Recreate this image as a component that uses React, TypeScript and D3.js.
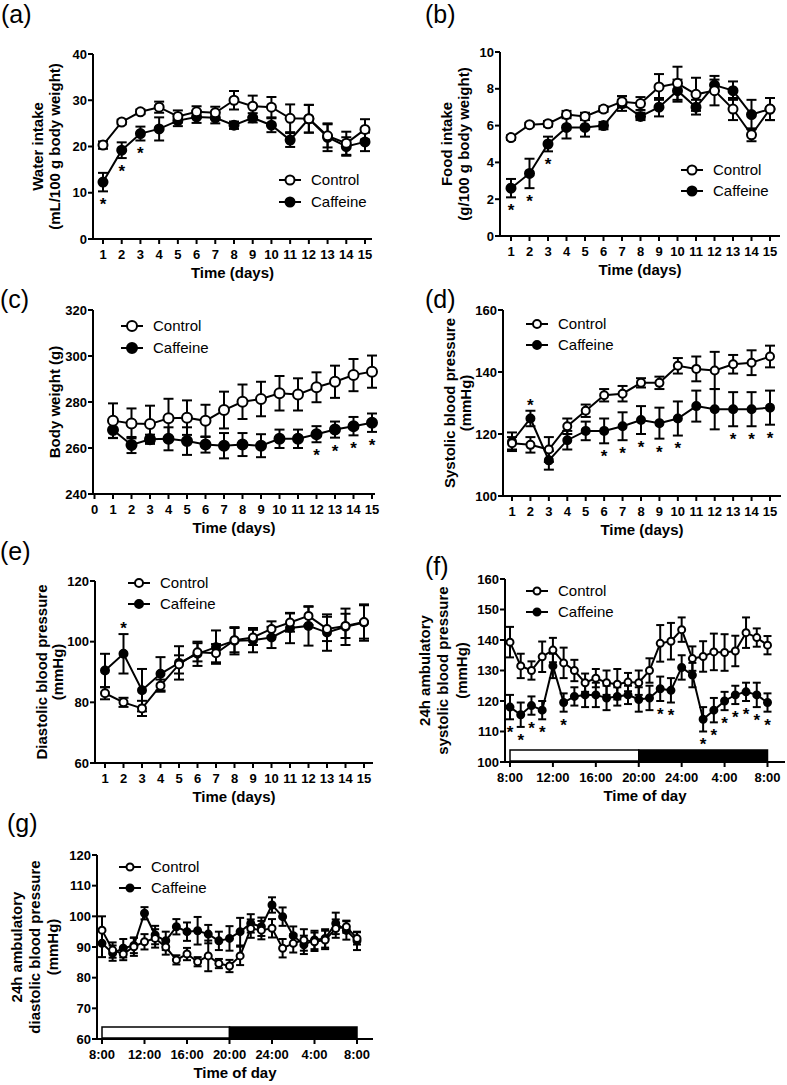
import React from 'react';
import * as d3 from 'd3';

// ---------- DATA ----------
const days = [1, 2, 3, 4, 5, 6, 7, 8, 9, 10, 11, 12, 13, 14, 15];
const weightDayTicks = [0, 1, 2, 3, 4, 5, 6, 7, 8, 9, 10, 11, 12, 13, 14, 15];
const hours = [0, 1, 2, 3, 4, 5, 6, 7, 8, 9, 10, 11, 12, 13, 14, 15, 16, 17, 18, 19, 20, 21, 22, 23, 24];
const timeTickHours = [0, 4, 8, 12, 16, 20, 24];
const timeTickLabels = ['8:00', '12:00', '16:00', '20:00', '24:00', '4:00', '8:00'];
const lightPeriod = [0, 12];
const darkPeriod = [12, 24];
const legendLabels = ['Control', 'Caffeine'];

// (a) water intake
const waterYTicks = [0, 10, 20, 30, 40];
const waterControl = [20.3, 25.3, 27.5, 28.5, 26.5, 27.5, 27.3, 30, 28.7, 28.5, 26.1, 26, 22.3, 20.7, 23.7];
const waterControlErr = [0.8, 0.5, 0.5, 1.2, 1.3, 1.2, 1.3, 2, 2.3, 2.2, 3, 3, 2.5, 2.5, 2.2];
const waterCaffeine = [12.3, 19.2, 22.8, 23.8, 25.6, 26.4, 26.2, 24.6, 26.2, 24.6, 21.4, 26, 22, 20, 21];
const waterCaffeineErr = [2, 1.7, 1.5, 2.5, 1.2, 1.3, 1.2, 0.8, 1, 1.5, 1.5, 3, 3, 2, 2];
const waterStars = [1, 2, 3];

// (b) food intake
const foodYTicks = [0, 2, 4, 6, 8, 10];
const foodControl = [5.35, 6.05, 6.1, 6.6, 6.5, 6.9, 7.3, 7.2, 8.1, 8.3, 7.7, 7.9, 6.9, 5.5, 6.9];
const foodControlErr = [0.12, 0.1, 0.15, 0.2, 0.2, 0.15, 0.3, 0.35, 0.7, 0.9, 0.9, 0.8, 0.6, 0.35, 0.6];
const foodCaffeine = [2.6, 3.4, 5.0, 5.9, 5.9, 6.0, 7.2, 6.5, 7.0, 7.9, 7.0, 8.2, 7.9, 6.6, 6.9];
const foodCaffeineErr = [0.5, 0.8, 0.4, 0.6, 0.5, 0.2, 0.4, 0.2, 0.5, 0.6, 0.4, 0.3, 0.5, 0.8, 0.6];
const foodStars = [1, 2, 3];

// (c) body weight
const weightYTicks = [240, 260, 280, 300, 320];
const weightControl = [271.9, 270.7, 270.4, 272.9, 273.2, 271.8, 276.5, 280.1, 281.3, 283.8, 283.3, 286.4, 288.8, 291.7, 293.2];
const weightControlErr = [7.5, 6.5, 8, 8.5, 7.5, 7, 8, 7.5, 7.5, 7.5, 7, 6.5, 7, 7, 7];
const weightCaffeine = [267.8, 261.3, 263.8, 264, 263, 261.5, 261, 261.5, 261, 264, 264, 266, 268, 269.5, 271];
const weightCaffeineErr = [3.5, 3.5, 2, 5, 6, 3.5, 5.5, 5, 5, 4, 4, 3.5, 3.5, 4, 4];
const weightStars = [12, 13, 14, 15];

// (d) systolic blood pressure
const sbpYTicks = [100, 120, 140, 160];
const sbpControl = [117, 116.5, 115, 122.5, 127.5, 132.5, 133, 136.5, 136.5, 142, 141, 140.5, 142.5, 143, 145];
const sbpControlErr = [2, 2.5, 4, 2.5, 2, 2, 2.5, 1.5, 2, 2.5, 4, 6, 3, 4, 3.5];
const sbpCaffeine = [117.5, 125, 111.5, 118, 121, 121, 122.5, 124.5, 123.5, 125, 129, 128, 128, 128, 128.5];
const sbpCaffeineErr = [3, 2.5, 3, 3, 3, 4, 4.5, 4.5, 5, 5.5, 5, 6.5, 5.5, 5.5, 5.5];
const sbpStarsBelow = [6, 7, 8, 9, 10, 13, 14, 15];
const sbpStarsAbove = [2];

// (e) diastolic blood pressure
const dbpYTicks = [60, 80, 100, 120];
const dbpControl = [83, 80, 78, 85.5, 92.5, 96.5, 96.2, 100.5, 101.4, 104.2, 106.3, 108.5, 104.2, 105.2, 106.5];
const dbpControlErr = [2, 1.5, 2.5, 2, 3, 3, 3, 4, 2.5, 2.5, 3, 3, 4, 4, 5.5];
const dbpCaffeine = [90.5, 96, 84, 89.4, 93, 96, 98.2, 100.3, 100.5, 101.4, 104.5, 105.2, 103, 104.9, 106.3];
const dbpCaffeineErr = [5.5, 6.5, 7, 5.5, 5.5, 4, 5.5, 4.5, 4, 3.5, 5, 6.5, 6, 6, 6];
const dbpStarsAbove = [2];

// (f) 24h ambulatory systolic blood pressure
const ambSbpYTicks = [100, 110, 120, 130, 140, 150, 160];
const ambSbpControl = [139.3, 131.5, 130, 134.5, 136.7, 132.5, 130, 126, 127.5, 126, 125.5, 126.2, 126, 130, 138.9, 139.6, 143.4, 133.9, 134.6, 136.1, 135.9, 136.4, 142.4, 140.8, 138.3];
const ambSbpControlErr = [5, 4, 3, 5, 4, 5, 3.5, 3, 3, 4, 5, 3, 4, 4, 6, 6, 4, 4, 5, 6, 6, 5, 5, 3, 3];
const ambSbpCaffeine = [118, 115.5, 118.5, 117, 131.5, 119.5, 121.5, 122, 122, 121, 121.5, 122, 120.5, 121, 124, 123.5, 131, 128.5, 114, 117, 120, 122, 123, 122, 119.5];
const ambSbpCaffeineErr = [4, 4, 3, 3, 4, 3, 3, 4, 4, 4, 3, 3, 4, 4, 4, 4, 4, 4, 4, 4, 3, 3, 3, 4, 3];
const ambSbpStars = [0, 1, 2, 3, 5, 14, 15, 18, 19, 20, 21, 22, 23, 24];

// (g) 24h ambulatory diastolic blood pressure
const ambDbpYTicks = [60, 70, 80, 90, 100, 110, 120];
const ambDbpControl = [95.5, 89, 87.7, 90.1, 91.7, 92.8, 90, 85.8, 87.7, 85.2, 87.1, 84.6, 83.8, 87.1, 96, 95.5, 96.1, 89.6, 91.2, 92.3, 91.7, 92.3, 96, 96.6, 92.8];
const ambDbpControlErr = [4.5, 2.5, 2, 3, 2.5, 3, 2.5, 1.5, 2, 1.5, 5, 1.5, 2, 3, 3, 3, 3, 3, 3, 3.5, 3, 3, 3, 2, 2];
const ambDbpCaffeine = [91.2, 88, 89.6, 90.5, 101, 93.9, 92, 96.6, 95, 95.3, 94.2, 92, 92.8, 95, 97.7, 96.6, 103.7, 99.9, 93.7, 90.7, 92.3, 92.8, 97.7, 95.4, 92];
const ambDbpCaffeineErr = [4.5, 2.5, 3, 2.5, 2, 3, 3, 2.5, 3, 4.5, 3, 3, 4, 4.5, 3, 3, 2.5, 3, 3, 3, 3, 3, 3.5, 3, 3];

// ---------- RENDER ----------
const FONT = 'Arial, "Liberation Sans", Helvetica, sans-serif';

type PanelProps = {
  label: string; labelX: number; labelY: number;
  xVals: number[]; xDomain: [number, number]; xRange: [number, number];
  xTicks: number[]; xTickLabels: string[];
  yDomain: [number, number]; yRange: [number, number]; yTicks: number[];
  axisLeft: number; axisRight: number;
  control: number[]; controlErr: number[]; caffeine: number[]; caffeineErr: number[];
  starsBelow: number[]; starsAbove: number[];
  yTitle: string[]; yTitleXs: number[]; xTitle: string;
  legendX: number; legendY: number[];
  r: number; cap: number; bar?: boolean;
};

function Star({ x, cy }: { x: number; cy: number }) {
  const fs = 17;
  return <text x={x} y={cy + 0.58 * fs} textAnchor="middle" fontSize={fs} fontWeight="bold" fontFamily={FONT}>*</text>;
}

function Panel(p: PanelProps) {
  const x = d3.scaleLinear().domain(p.xDomain).range(p.xRange);
  const y = d3.scaleLinear().domain(p.yDomain).range(p.yRange);
  const y0 = y(p.yDomain[0]);
  const yTop = y(p.yDomain[1]);
  const midY = (y0 + yTop) / 2;
  const line = d3.line<number>().x((_, i) => x(p.xVals[i])).y((v) => y(v));
  const series = [
    { vals: p.caffeine, errs: p.caffeineErr, filled: true },
    { vals: p.control, errs: p.controlErr, filled: false },
  ];
  return (
    <g fontFamily={FONT}>
      <text x={p.labelX} y={p.labelY} fontSize={25}>{p.label}</text>
      {p.bar && (
        <g>
          <rect x={x(lightPeriod[0])} y={y0 - 12} width={x(lightPeriod[1]) - x(lightPeriod[0])} height={11} fill="#fff" stroke="#000" strokeWidth={1.5} />
          <rect x={x(darkPeriod[0])} y={y0 - 12} width={x(darkPeriod[1]) - x(darkPeriod[0])} height={11} fill="#000" stroke="#000" strokeWidth={1.5} />
        </g>
      )}
      <line x1={p.axisLeft} x2={p.axisLeft} y1={yTop} y2={y0 + 1} stroke="#000" strokeWidth={2} />
      <line x1={p.axisLeft} x2={p.axisRight} y1={y0} y2={y0} stroke="#000" strokeWidth={2} />
      {p.yTicks.map((t) => (
        <g key={'y' + t}>
          <line x1={p.axisLeft - 5} x2={p.axisLeft} y1={y(t)} y2={y(t)} stroke="#000" strokeWidth={2} />
          <text x={p.axisLeft - 6} y={y(t)} dy="0.36em" textAnchor="end" fontSize={13} fontWeight="bold">{t}</text>
        </g>
      ))}
      {p.xTicks.map((t, i) => (
        <g key={'x' + i}>
          <line x1={x(t)} x2={x(t)} y1={y0} y2={y0 + 5} stroke="#000" strokeWidth={2} />
          <text x={x(t)} y={y0 + 15.5} dy="0.36em" textAnchor="middle" fontSize={13} fontWeight="bold">{p.xTickLabels[i]}</text>
        </g>
      ))}
      <text x={(p.axisLeft + p.axisRight) / 2} y={y0 + 34} dy="0.36em" textAnchor="middle" fontSize={15} fontWeight="bold">{p.xTitle}</text>
      {p.yTitle.map((t, i) => (
        <text key={'yt' + i} transform={`translate(${p.yTitleXs[i]},${midY}) rotate(-90)`} dy="0.36em" textAnchor="middle" fontSize={15} fontWeight="bold">{t}</text>
      ))}
      {series.map((s, si) => (
        <g key={'s' + si}>
          <path d={line(s.vals) || ''} fill="none" stroke="#000" strokeWidth={2} />
          {s.vals.map((v, i) => {
            const cx = x(p.xVals[i]);
            const yHi = y(v + s.errs[i]);
            const yLo = y(v - s.errs[i]);
            return (
              <g key={'e' + i}>
                <line x1={cx} x2={cx} y1={yHi} y2={yLo} stroke="#000" strokeWidth={2} />
                <line x1={cx - p.cap} x2={cx + p.cap} y1={yHi} y2={yHi} stroke="#000" strokeWidth={2} />
                <line x1={cx - p.cap} x2={cx + p.cap} y1={yLo} y2={yLo} stroke="#000" strokeWidth={2} />
              </g>
            );
          })}
          {s.vals.map((v, i) => (
            <circle key={'c' + i} cx={x(p.xVals[i])} cy={y(v)} r={p.r} fill={s.filled ? '#000' : '#fff'} stroke="#000" strokeWidth={2} />
          ))}
        </g>
      ))}
      {p.starsBelow.map((d) => {
        const i = p.xVals.indexOf(d);
        return <Star key={'sb' + d} x={x(d)} cy={y(p.caffeine[i] - p.caffeineErr[i]) + 9} />;
      })}
      {p.starsAbove.map((d) => {
        const i = p.xVals.indexOf(d);
        return <Star key={'sa' + d} x={x(d)} cy={y(p.caffeine[i] + p.caffeineErr[i]) - 10} />;
      })}
      {legendLabels.map((lab, i) => (
        <g key={'lg' + i}>
          <line x1={p.legendX - 11} x2={p.legendX + 11} y1={p.legendY[i]} y2={p.legendY[i]} stroke="#000" strokeWidth={2} />
          <circle cx={p.legendX} cy={p.legendY[i]} r={p.r} fill={i === 1 ? '#000' : '#fff'} stroke="#000" strokeWidth={2} />
          <text x={p.legendX + 21} y={p.legendY[i]} dy="0.36em" fontSize={15}>{lab}</text>
        </g>
      ))}
    </g>
  );
}

export default function App() {
  const dayLabels = days.map(String);
  return (
    <svg width={787} height={1085} viewBox="0 0 787 1085" style={{ position: 'absolute', left: 0, top: 0, background: '#fff' }}>
      <rect x={0} y={0} width={787} height={1085} fill="#fff" />
      <Panel label="(a)" labelX={1} labelY={23}
        xVals={days} xDomain={[1, 15]} xRange={[103, 365]} xTicks={days} xTickLabels={dayLabels}
        yDomain={[0, 40]} yRange={[239, 54]} yTicks={waterYTicks}
        axisLeft={93} axisRight={372}
        control={waterControl} controlErr={waterControlErr} caffeine={waterCaffeine} caffeineErr={waterCaffeineErr}
        starsBelow={waterStars} starsAbove={[]}
        yTitle={['Water intake', '(mL/100 g body weight)']} yTitleXs={[38, 55]} xTitle="Time (days)"
        legendX={290} legendY={[180, 202]} r={4.5} cap={5} />
      <Panel label="(b)" labelX={425} labelY={23}
        xVals={days} xDomain={[1, 15]} xRange={[511, 770]} xTicks={days} xTickLabels={dayLabels}
        yDomain={[0, 10]} yRange={[236, 52]} yTicks={foodYTicks}
        axisLeft={500} axisRight={780}
        control={foodControl} controlErr={foodControlErr} caffeine={foodCaffeine} caffeineErr={foodCaffeineErr}
        starsBelow={foodStars} starsAbove={[]}
        yTitle={['Food intake', '(g/100 g body weight)']} yTitleXs={[447, 464]} xTitle="Time (days)"
        legendX={692} legendY={[170, 191]} r={4.5} cap={5} />
      <Panel label="(c)" labelX={0} labelY={308}
        xVals={days} xDomain={[0, 15]} xRange={[94.5, 372]} xTicks={weightDayTicks} xTickLabels={weightDayTicks.map(String)}
        yDomain={[240, 320]} yRange={[494, 310]} yTicks={weightYTicks}
        axisLeft={93} axisRight={375}
        control={weightControl} controlErr={weightControlErr} caffeine={weightCaffeine} caffeineErr={weightCaffeineErr}
        starsBelow={weightStars} starsAbove={[]}
        yTitle={['Body weight (g)']} yTitleXs={[55]} xTitle="Time (days)"
        legendX={132} legendY={[326, 348]} r={5} cap={5} />
      <Panel label="(d)" labelX={425} labelY={308}
        xVals={days} xDomain={[1, 15]} xRange={[512, 770]} xTicks={days} xTickLabels={dayLabels}
        yDomain={[100, 160]} yRange={[496, 310]} yTicks={sbpYTicks}
        axisLeft={503} axisRight={781}
        control={sbpControl} controlErr={sbpControlErr} caffeine={sbpCaffeine} caffeineErr={sbpCaffeineErr}
        starsBelow={sbpStarsBelow} starsAbove={sbpStarsAbove}
        yTitle={['Systolic blood pressure', '(mmHg)']} yTitleXs={[450, 466]} xTitle="Time (days)"
        legendX={537} legendY={[324, 345]} r={4} cap={5} />
      <Panel label="(e)" labelX={0} labelY={560}
        xVals={days} xDomain={[1, 15]} xRange={[105, 364]} xTicks={days} xTickLabels={dayLabels}
        yDomain={[60, 120]} yRange={[763, 581]} yTicks={dbpYTicks}
        axisLeft={95} axisRight={373}
        control={dbpControl} controlErr={dbpControlErr} caffeine={dbpCaffeine} caffeineErr={dbpCaffeineErr}
        starsBelow={[]} starsAbove={dbpStarsAbove}
        yTitle={['Diastolic blood pressure', '(mmHg)']} yTitleXs={[42, 58]} xTitle="Time (days)"
        legendX={139} legendY={[583, 604]} r={4} cap={5} />
      <Panel label="(f)" labelX={425} labelY={575}
        xVals={hours} xDomain={[0, 24]} xRange={[510, 767.5]} xTicks={timeTickHours} xTickLabels={timeTickLabels}
        yDomain={[100, 160]} yRange={[762, 579]} yTicks={ambSbpYTicks}
        axisLeft={505} axisRight={785}
        control={ambSbpControl} controlErr={ambSbpControlErr} caffeine={ambSbpCaffeine} caffeineErr={ambSbpCaffeineErr}
        starsBelow={ambSbpStars} starsAbove={[]}
        yTitle={['24h ambulatory', 'systolic blood pressure', '(mmHg)']} yTitleXs={[425, 443, 462]} xTitle="Time of day"
        legendX={537} legendY={[591, 612]} r={3.5} cap={4} bar />
      <Panel label="(g)" labelX={7} labelY={832}
        xVals={hours} xDomain={[0, 24]} xRange={[102, 357]} xTicks={timeTickHours} xTickLabels={timeTickLabels}
        yDomain={[60, 120]} yRange={[1039, 855]} yTicks={ambDbpYTicks}
        axisLeft={97} axisRight={373}
        control={ambDbpControl} controlErr={ambDbpControlErr} caffeine={ambDbpCaffeine} caffeineErr={ambDbpCaffeineErr}
        starsBelow={[]} starsAbove={[]}
        yTitle={['24h ambulatory', 'diastolic blood pressure', '(mmHg)']} yTitleXs={[17, 35, 53]} xTitle="Time of day"
        legendX={130} legendY={[867, 888]} r={3.5} cap={4} bar />
    </svg>
  );
}
